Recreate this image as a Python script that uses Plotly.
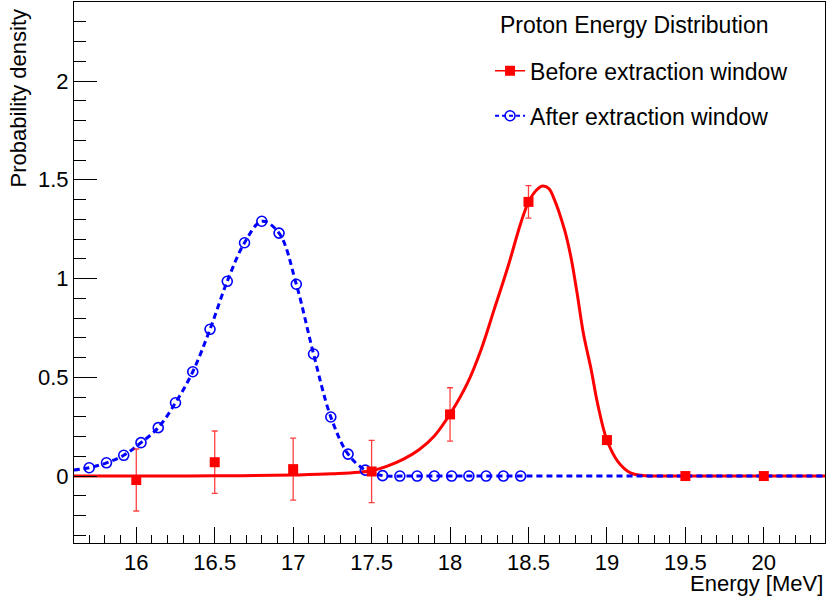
import plotly.graph_objects as go

# ---- data ----
x_before = [16.0, 16.5, 17.0, 17.5, 18.0, 18.5, 19.0, 19.5, 20.0]
y_before = [-0.020, 0.070, 0.035, 0.023, 0.312, 1.388, 0.182, 0.0, 0.0]
err_before = [0.157, 0.158, 0.157, 0.158, 0.135, 0.082, 0.010, 0.0, 0.0]

x_after = [15.70, 15.81, 15.92, 16.03, 16.14, 16.25, 16.36, 16.47, 16.58,
           16.69, 16.80, 16.91, 17.02, 17.13, 17.24, 17.35, 17.46, 17.57,
           17.68, 17.79, 17.90, 18.01, 18.12, 18.23, 18.34, 18.45]
y_after = [0.042, 0.067, 0.105, 0.169, 0.245, 0.371, 0.528, 0.743, 0.986,
           1.181, 1.290, 1.230, 0.971, 0.618, 0.299, 0.111, 0.030, 0.002,
           0.0, 0.0, 0.0, 0.0, 0.0, 0.0, 0.0, 0.0]

# fitted curve of "before"
x_fit_before = [15.60, 16.00, 16.50, 17.00, 17.25, 17.50, 17.60, 17.70, 17.80,
                17.90, 18.00, 18.11, 18.20, 18.28, 18.37, 18.45, 18.50, 18.55,
                18.59, 18.63, 18.66, 18.73, 18.77, 18.81, 18.85, 18.90, 18.94,
                19.00, 19.07, 19.15, 19.25, 19.40, 20.00, 20.40]
y_fit_before = [0.0, 0.0, 0.001, 0.005, 0.011, 0.027, 0.050, 0.084, 0.132,
                0.203, 0.314, 0.469, 0.645, 0.840, 1.062, 1.279, 1.387, 1.447,
                1.468, 1.455, 1.410, 1.246, 1.110, 0.925, 0.722, 0.537, 0.368,
                0.182, 0.073, 0.016, 0.002, 0.0, 0.0, 0.0]

# fitted curve of "after"
x_fit_after = [15.60] + x_after[:18] + [17.70, 17.90, 18.50, 19.50, 20.40]
y_fit_after = [0.030] + y_after[:18] + [0.0, 0.0, 0.0, 0.0, 0.0]

x_ticks = [16, 16.5, 17, 17.5, 18, 18.5, 19, 19.5, 20]
y_ticks = [0, 0.5, 1, 1.5, 2]

legend_header = "Proton Energy Distribution"
name_before = "Before extraction window"
name_after = "After extraction window"

RED = "rgb(255,0,0)"
BLUE = "rgb(0,0,255)"
FONT = "Liberation Sans, Arial, sans-serif"

fig = go.Figure()

fig.add_trace(go.Scatter(x=x_fit_before, y=y_fit_before, mode="lines",
                         line=dict(color=RED, width=3, shape="spline", smoothing=1.0),
                         showlegend=False, hoverinfo="skip"))
fig.add_trace(go.Scatter(x=x_fit_after, y=y_fit_after, mode="lines",
                         line=dict(color=BLUE, width=3, dash="6px,4px", shape="spline", smoothing=1.0),
                         showlegend=False, hoverinfo="skip"))
fig.add_trace(go.Scatter(x=x_after, y=y_after, mode="markers",
                         marker=dict(symbol="circle-open", size=10, color=BLUE,
                                     line=dict(width=1.6, color=BLUE)),
                         showlegend=False))
fig.add_trace(go.Scatter(x=x_before, y=y_before, mode="markers",
                         marker=dict(symbol="square", size=10, color=RED),
                         error_y=dict(type="data", array=err_before, visible=True,
                                      color="rgba(255,0,0,0.75)", thickness=1.3, width=3),
                         showlegend=False))

# legend entries
fig.add_trace(go.Scatter(x=[None], y=[None], mode="lines+markers",
                         name=name_before,
                         line=dict(color=RED, width=1.5),
                         marker=dict(symbol="square", size=10, color=RED),
                         legendgroup="a"))
fig.add_trace(go.Scatter(x=[None], y=[None], mode="lines+markers",
                         name=name_after,
                         line=dict(color=BLUE, width=2, dash="4px,3px"),
                         marker=dict(symbol="circle-open", size=10, color=BLUE,
                                     line=dict(width=1.6, color=BLUE)),
                         legendgroup="b"))

axis_common = dict(
    showline=True, linecolor="black", linewidth=1, mirror=True,
    showgrid=False, zeroline=False,
    ticks="inside", tickcolor="black", tickwidth=1,
    tickfont=dict(family=FONT, size=22, color="black"),
)

fig.update_xaxes(range=[15.603, 20.39], tickvals=x_ticks, ticklen=16,
                 minor=dict(ticks="inside", ticklen=8, dtick=0.1, tick0=0,
                            tickcolor="black", tickwidth=1, showgrid=False),
                 **axis_common)
fig.update_yaxes(range=[-0.339, 2.4], tickvals=y_ticks, ticklen=23,
                 minor=dict(ticks="inside", ticklen=12, dtick=0.1, tick0=0,
                            tickcolor="black", tickwidth=1, showgrid=False),
                 **axis_common)

fig.add_annotation(text="Energy [MeV]", xref="paper", yref="paper",
                   x=1, y=0, xanchor="right", yanchor="middle", yshift=-40,
                   showarrow=False, font=dict(family=FONT, size=22, color="black"))
fig.add_annotation(text="Probability density", xref="paper", yref="paper",
                   x=0, y=1, xanchor="center", yanchor="top", xshift=-56, yshift=-5,
                   textangle=-90, showarrow=False,
                   font=dict(family=FONT, size=22, color="black"))
fig.add_annotation(text=legend_header, xref="paper", yref="paper",
                   x=0.565, y=0.9575, xanchor="left", yanchor="middle",
                   showarrow=False, font=dict(family=FONT, size=23, color="black"))

fig.update_layout(
    width=827, height=596,
    margin=dict(l=74, r=2, t=2, b=53),
    paper_bgcolor="white", plot_bgcolor="white",
    font=dict(family=FONT, color="black"),
    legend=dict(
        font=dict(family=FONT, size=23, color="black"),
        xref="paper", yref="paper", x=0.554, y=0.9124, xanchor="left", yanchor="top",
        bgcolor="rgba(0,0,0,0)", borderwidth=0, tracegroupgap=12,
        itemwidth=30,
    ),
)

fig.write_html("out.html", config={"displayModeBar": False},
               post_script="document.body.style.margin='0';document.body.style.overflow='hidden';")
